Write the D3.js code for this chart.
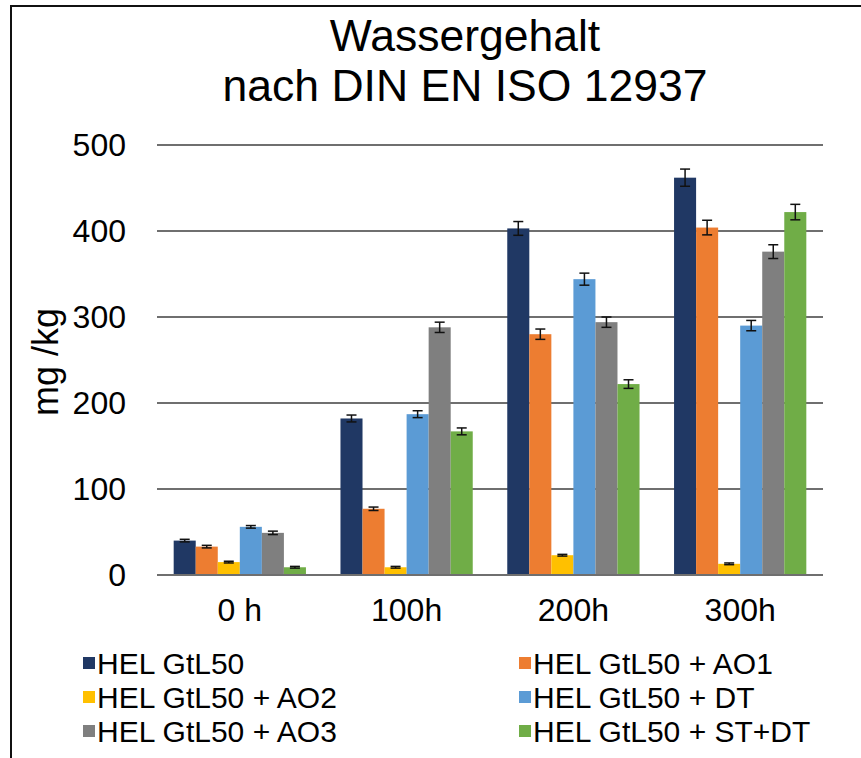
<!DOCTYPE html>
<html>
<head>
<meta charset="utf-8">
<script src="https://cdn.jsdelivr.net/npm/d3@7"></script>
<style>
  body { margin: 0; background: #fff; }
  svg { display: block; font-family: 'Liberation Sans', Arial, sans-serif; }
</style>
</head>
<body>
<div id="graph"></div>
<script>
var categories = ['0 h', '100h', '200h', '300h']
var seriesNames = ['HEL GtL50', 'HEL GtL50 + AO1', 'HEL GtL50 + AO2', 'HEL GtL50 + DT', 'HEL GtL50 + AO3', 'HEL GtL50 + ST+DT']
var seriesColors = ['#203864', '#ed7d31', '#ffc000', '#5b9bd5', '#7f7f7f', '#70ad47']

// values per series, one per category
var gtl50    = [40, 182, 403, 462]
var gtl50ao1 = [33, 77, 280, 404]
var gtl50ao2 = [15, 9, 23, 13]
var gtl50dt  = [56, 187, 344, 290]
var gtl50ao3 = [49, 288, 294, 376]
var gtl50sd  = [9, 167, 222, 422]
var values = [gtl50, gtl50ao1, gtl50ao2, gtl50dt, gtl50ao3, gtl50sd]

// error (+/-) per series
var err = [
  [1.5, 4, 8, 10],
  [1.5, 2, 6, 8.5],
  [1, 1, 1, 1],
  [1.5, 4, 7, 6],
  [2, 6, 6, 8],
  [1, 4, 5, 9]
]

var yTicks = [0, 100, 200, 300, 400, 500]

var W = 861, H = 758
var svg = d3.select('#graph').append('svg').attr('width', W).attr('height', H)

svg.append('rect').attr('width', W).attr('height', H).attr('fill', '#fff')

// frame (left and top edges visible)
svg.append('path')
  .attr('d', 'M11,' + H + 'V6H' + W)
  .attr('fill', 'none').attr('stroke', '#111').attr('stroke-width', 2)

var pLeft = 157, pRight = 823, pTop = 145, pBottom = 575

var y = d3.scaleLinear().domain([0, 500]).range([pBottom, pTop])
var x0 = d3.scaleBand().domain(categories).range([pLeft, pRight]).paddingInner(0.207).paddingOuter(0.1)
var x1 = d3.scaleBand().domain(d3.range(seriesNames.length)).range([0, x0.bandwidth()])

// title
var title = svg.append('text').attr('text-anchor', 'middle').attr('font-size', 44.5).attr('fill', '#000')
title.append('tspan').attr('x', 465).attr('y', 51).text('Wassergehalt')
title.append('tspan').attr('x', 465).attr('y', 101).text('nach DIN EN ISO 12937')

// gridlines
svg.append('g').selectAll('line').data(yTicks).join('line')
  .attr('x1', pLeft).attr('x2', pRight)
  .attr('y1', d => y(d)).attr('y2', d => y(d))
  .attr('stroke', '#6f6f6f').attr('stroke-width', 2)

// y axis labels
var yAxis = d3.axisLeft(y).tickValues(yTicks).tickSize(0).tickPadding(31)
var yg = svg.append('g').attr('transform', 'translate(' + pLeft + ',0)').call(yAxis)
yg.select('.domain').remove()
yg.selectAll('text').attr('font-size', 32).attr('fill', '#000').attr('font-family', "'Liberation Sans', Arial, sans-serif")

// x axis labels
var xAxis = d3.axisBottom(x0).tickSize(0).tickPadding(23)
var xg = svg.append('g').attr('transform', 'translate(0,' + pBottom + ')').call(xAxis)
xg.select('.domain').remove()
xg.selectAll('text').attr('font-size', 32).attr('fill', '#000').attr('font-family', "'Liberation Sans', Arial, sans-serif")

// axis title
svg.append('text')
  .attr('transform', 'translate(58,362) rotate(-90)')
  .attr('text-anchor', 'middle').attr('font-size', 36).attr('fill', '#000')
  .text('mg /kg')

// bars
var groups = svg.append('g').selectAll('g').data(categories).join('g')
  .attr('transform', d => 'translate(' + x0(d) + ',0)')

groups.each(function(cat, ci) {
  var g = d3.select(this)
  seriesNames.forEach((s, si) => {
    var v = values[si][ci]
    var bx = x1(si)
    g.append('rect')
      .attr('x', bx).attr('width', x1.bandwidth())
      .attr('y', y(v)).attr('height', y(0) - y(v))
      .attr('fill', seriesColors[si])
    var cx = bx + x1.bandwidth() / 2
    var e = err[si][ci]
    var eg = g.append('g').attr('stroke', '#111').attr('stroke-width', 1.5)
    eg.append('line').attr('x1', cx).attr('x2', cx).attr('y1', y(v + e)).attr('y2', y(v - e))
    eg.append('line').attr('x1', cx - 5).attr('x2', cx + 5).attr('y1', y(v + e)).attr('y2', y(v + e))
    eg.append('line').attr('x1', cx - 5).attr('x2', cx + 5).attr('y1', y(v - e)).attr('y2', y(v - e))
  })
})

// baseline over bars
svg.append('line')
  .attr('x1', pLeft).attr('x2', pRight).attr('y1', y(0)).attr('y2', y(0))
  .attr('stroke', '#6f6f6f').attr('stroke-width', 2)

// legend
var legendX = [83, 519]
var legend = svg.append('g').selectAll('g').data(seriesNames).join('g')
  .attr('transform', (d, i) => 'translate(' + legendX[i % 2] + ',' + (663 + Math.floor(i / 2) * 34) + ')')
legend.append('rect').attr('x', 0).attr('y', -6).attr('width', 12).attr('height', 12)
  .attr('fill', (d, i) => seriesColors[i])
legend.append('text').attr('x', 14).attr('y', 11)
  .attr('font-size', 30).attr('fill', '#000').text(d => d)
</script>
</body>
</html>
